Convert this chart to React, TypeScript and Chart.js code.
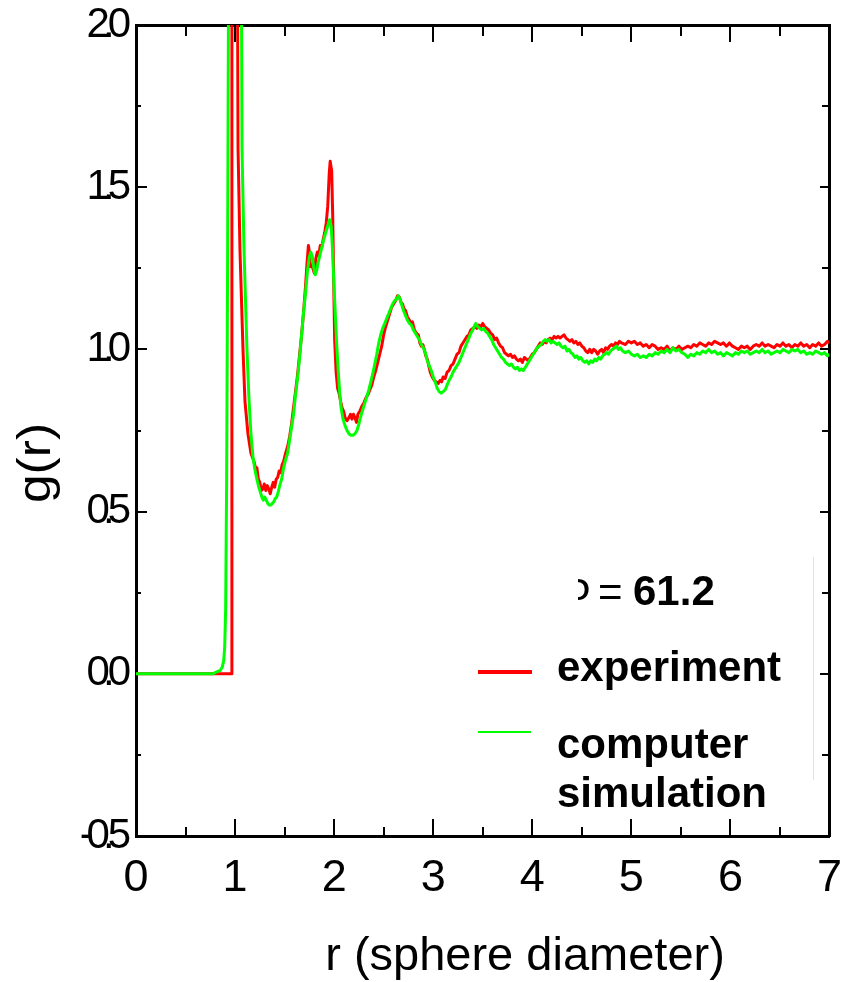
import { useEffect, useRef } from 'react';
import { Chart, registerables } from 'chart.js';

Chart.register(...registerables);

// Axis ranges
const R_MIN = 0;
const R_MAX = 7;
const G_MIN = -0.5;
const G_MAX = 2.0;

// Measured pair distribution function (red)
const experimentR = [
  0, 0.5, 0.962, 0.968, 1.0, 1.025, 1.03, 1.05, 1.08, 1.1,
  1.13, 1.16, 1.19, 1.21, 1.22, 1.235, 1.25, 1.265, 1.28, 1.295,
  1.31, 1.325, 1.34, 1.355, 1.37, 1.385, 1.4, 1.415, 1.43, 1.445,
  1.46, 1.475, 1.49, 1.51, 1.53, 1.55, 1.57, 1.59, 1.61, 1.63,
  1.65, 1.67, 1.69, 1.71, 1.725, 1.74, 1.75, 1.76, 1.775, 1.79,
  1.8, 1.815, 1.83, 1.845, 1.86, 1.875, 1.89, 1.905, 1.92, 1.935,
  1.95, 1.96, 1.975, 1.985, 1.995, 2.005, 2.02, 2.035, 2.05, 2.065,
  2.08, 2.095, 2.11, 2.13, 2.15, 2.165, 2.18, 2.195, 2.21, 2.225,
  2.24, 2.26, 2.28, 2.3, 2.32, 2.34, 2.36, 2.38, 2.4, 2.42,
  2.44, 2.46, 2.48, 2.5, 2.52, 2.54, 2.56, 2.58, 2.6, 2.62,
  2.64, 2.66, 2.675, 2.69, 2.705, 2.72, 2.74, 2.76, 2.775, 2.79,
  2.81, 2.83, 2.85, 2.865, 2.88, 2.895, 2.91, 2.925, 2.94, 2.955,
  2.97, 2.99, 3.01, 3.03, 3.05, 3.07, 3.085, 3.1, 3.12, 3.14,
  3.16, 3.18, 3.2, 3.22, 3.24, 3.26, 3.28, 3.3, 3.32, 3.34,
  3.36, 3.38, 3.4, 3.42, 3.44, 3.46, 3.48, 3.5, 3.52, 3.54,
  3.56, 3.58, 3.6, 3.62, 3.64, 3.66, 3.68, 3.7, 3.72, 3.74,
  3.76, 3.78, 3.8, 3.82, 3.84, 3.86, 3.88, 3.9, 3.92, 3.94,
  3.96, 3.98, 4.0, 4.02, 4.04, 4.06, 4.08, 4.1, 4.12, 4.14,
  4.16, 4.18, 4.2, 4.22, 4.24, 4.26, 4.28, 4.3, 4.32, 4.34,
  4.36, 4.38, 4.4, 4.42, 4.44, 4.46, 4.48, 4.5, 4.52, 4.54,
  4.56, 4.58, 4.6, 4.62, 4.64, 4.66, 4.68, 4.7, 4.72, 4.74,
  4.76, 4.78, 4.8, 4.82, 4.84, 4.86, 4.88, 4.9, 4.94, 4.97,
  5.0, 5.03, 5.06, 5.09, 5.12, 5.15, 5.18, 5.21, 5.24, 5.27,
  5.3, 5.33, 5.36, 5.39, 5.42, 5.45, 5.48, 5.51, 5.54, 5.57,
  5.6, 5.63, 5.66, 5.69, 5.72, 5.75, 5.78, 5.81, 5.84, 5.87,
  5.9, 5.93, 5.96, 5.99, 6.02, 6.05, 6.08, 6.11, 6.14, 6.17,
  6.2, 6.23, 6.26, 6.29, 6.32, 6.35, 6.38, 6.41, 6.44, 6.47,
  6.5, 6.53, 6.56, 6.59, 6.62, 6.65, 6.68, 6.71, 6.74, 6.77,
  6.8, 6.83, 6.86, 6.89, 6.92, 6.95, 6.98, 7.0,
];
const experimentG = [
  0, 0, 0, 3.0, 3.5, 2.1, 1.62, 1.3, 1.0, 0.84,
  0.74, 0.68, 0.655, 0.63, 0.635, 0.6, 0.59, 0.565, 0.57, 0.585,
  0.565, 0.58, 0.57, 0.555, 0.575, 0.59, 0.575, 0.6, 0.605, 0.625,
  0.62, 0.645, 0.655, 0.68, 0.7, 0.73, 0.77, 0.82, 0.87, 0.92,
  0.98, 1.04, 1.11, 1.19, 1.26, 1.32, 1.3, 1.255, 1.26, 1.245,
  1.235, 1.28, 1.3, 1.29, 1.32, 1.315, 1.34, 1.36, 1.39, 1.44,
  1.54, 1.58, 1.55, 1.42, 1.22, 1.03, 0.93, 0.88, 0.865, 0.84,
  0.82, 0.81, 0.79, 0.78, 0.79, 0.8, 0.785, 0.8, 0.79, 0.775,
  0.8, 0.81, 0.825, 0.835, 0.85, 0.86, 0.875, 0.89, 0.915, 0.935,
  0.96, 0.985, 1.01, 1.045, 1.07, 1.09, 1.11, 1.13, 1.14, 1.15,
  1.165, 1.16, 1.145, 1.14, 1.125, 1.12, 1.1, 1.09, 1.08, 1.085,
  1.06, 1.05, 1.045, 1.02, 1.01, 1.015, 1.0, 0.98, 0.97, 0.95,
  0.93, 0.915, 0.905, 0.9, 0.895, 0.905, 0.9, 0.915, 0.91, 0.93,
  0.935, 0.95, 0.955, 0.97, 0.985, 0.99, 1.01, 1.02, 1.03, 1.04,
  1.045, 1.06, 1.065, 1.07, 1.065, 1.075, 1.07, 1.08, 1.07, 1.065,
  1.06, 1.05, 1.045, 1.03, 1.035, 1.02, 1.01, 1.005, 0.99, 0.985,
  0.98, 0.985, 0.975, 0.98, 0.97, 0.965, 0.97, 0.96, 0.975, 0.97,
  0.965, 0.975, 0.985, 0.99, 1.0, 1.01, 1.02, 1.015, 1.025, 1.02,
  1.03, 1.035, 1.03, 1.04, 1.035, 1.04, 1.035, 1.04, 1.045, 1.035,
  1.03, 1.025, 1.03, 1.02, 1.025, 1.015, 1.02, 1.01, 1.005, 0.995,
  0.99, 1.0, 0.99, 1.0, 0.995, 0.985, 0.995, 1.0, 0.99, 1.005,
  1.0, 1.01, 1.015, 1.01, 1.02, 1.015, 1.025, 1.02, 1.015, 1.025,
  1.02, 1.025, 1.015, 1.02, 1.01, 1.015, 1.005, 1.015, 1.01, 1.0,
  1.005, 1.0, 1.01, 0.995, 1.005, 1.0, 1.01, 1.0, 1.005, 1.01,
  1.005, 1.015, 1.01, 1.02, 1.015, 1.01, 1.02, 1.015, 1.025, 1.02,
  1.015, 1.02, 1.01, 1.02, 1.01, 1.005, 1.0, 1.01, 1.005, 1.01,
  1.0, 1.01, 1.015, 1.01, 1.02, 1.01, 1.015, 1.01, 1.005, 1.015,
  1.01, 1.02, 1.01, 1.015, 1.005, 1.015, 1.01, 1.02, 1.01, 1.015,
  1.005, 1.015, 1.01, 1.02, 1.01, 1.015, 1.025, 1.02,
];

// Computer simulation (green)
const simulationR = [
  0, 0.5, 0.78, 0.8, 0.83, 0.85, 0.87, 0.885, 0.895, 0.905,
  0.915, 0.925, 0.935, 0.95, 1.0, 1.05, 1.065, 1.07, 1.09, 1.12,
  1.14, 1.16, 1.18, 1.2, 1.22, 1.24, 1.255, 1.27, 1.285, 1.3,
  1.315, 1.33, 1.345, 1.36, 1.375, 1.39, 1.405, 1.42, 1.435, 1.45,
  1.47, 1.49, 1.51, 1.53, 1.55, 1.57, 1.59, 1.61, 1.63, 1.65,
  1.67, 1.69, 1.71, 1.73, 1.75, 1.765, 1.78, 1.795, 1.81, 1.825,
  1.84, 1.86, 1.88, 1.9, 1.92, 1.94, 1.955, 1.97, 1.98, 1.995,
  2.01, 2.025, 2.04, 2.055, 2.07, 2.09, 2.11, 2.13, 2.15, 2.17,
  2.19, 2.21, 2.23, 2.25, 2.27, 2.29, 2.31, 2.33, 2.35, 2.37,
  2.39, 2.41, 2.43, 2.45, 2.47, 2.49, 2.51, 2.53, 2.55, 2.57,
  2.59, 2.61, 2.63, 2.65, 2.665, 2.68, 2.7, 2.72, 2.74, 2.76,
  2.78, 2.8, 2.82, 2.84, 2.86, 2.88, 2.9, 2.92, 2.94, 2.96,
  2.98, 3.0, 3.02, 3.04, 3.06, 3.08, 3.1, 3.12, 3.14, 3.16,
  3.18, 3.2, 3.22, 3.24, 3.26, 3.28, 3.3, 3.32, 3.34, 3.36,
  3.38, 3.4, 3.42, 3.43, 3.45, 3.47, 3.49, 3.51, 3.53, 3.55,
  3.57, 3.59, 3.61, 3.63, 3.65, 3.67, 3.69, 3.71, 3.73, 3.75,
  3.77, 3.79, 3.81, 3.83, 3.85, 3.87, 3.89, 3.91, 3.93, 3.95,
  3.97, 3.99, 4.01, 4.03, 4.05, 4.07, 4.09, 4.11, 4.13, 4.15,
  4.17, 4.19, 4.21, 4.23, 4.25, 4.27, 4.29, 4.31, 4.33, 4.35,
  4.37, 4.39, 4.41, 4.43, 4.45, 4.47, 4.49, 4.51, 4.53, 4.55,
  4.57, 4.59, 4.61, 4.63, 4.65, 4.67, 4.69, 4.71, 4.73, 4.75,
  4.77, 4.79, 4.81, 4.83, 4.85, 4.87, 4.89, 4.91, 4.94, 4.97,
  5.0, 5.03, 5.06, 5.09, 5.12, 5.15, 5.18, 5.21, 5.24, 5.27,
  5.3, 5.33, 5.36, 5.39, 5.42, 5.45, 5.48, 5.51, 5.54, 5.57,
  5.6, 5.63, 5.66, 5.69, 5.72, 5.75, 5.78, 5.81, 5.84, 5.87,
  5.9, 5.93, 5.96, 5.99, 6.02, 6.05, 6.08, 6.11, 6.14, 6.17,
  6.2, 6.23, 6.26, 6.29, 6.32, 6.35, 6.38, 6.41, 6.44, 6.47,
  6.5, 6.53, 6.56, 6.59, 6.62, 6.65, 6.68, 6.71, 6.74, 6.77,
  6.8, 6.83, 6.86, 6.89, 6.92, 6.95, 6.98, 7.0,
];
const simulationG = [
  0, 0, 0, 0.004, 0.008, 0.01, 0.02, 0.04, 0.08, 0.2,
  0.6, 1.3, 2.2, 3.2, 4.0, 2.8, 2.05, 1.62, 1.31, 1.0,
  0.85, 0.74, 0.67, 0.63, 0.6, 0.575, 0.56, 0.545, 0.535, 0.545,
  0.535, 0.525, 0.52, 0.52, 0.525, 0.53, 0.54, 0.545, 0.56, 0.58,
  0.6, 0.635, 0.66, 0.68, 0.72, 0.76, 0.8, 0.86, 0.91, 0.97,
  1.04, 1.11, 1.17, 1.24, 1.285, 1.3, 1.285, 1.25, 1.23, 1.245,
  1.27, 1.295, 1.32, 1.345, 1.365, 1.385, 1.4, 1.38, 1.33, 1.22,
  1.12, 1.02, 0.94, 0.87, 0.82, 0.785, 0.765, 0.75, 0.74, 0.735,
  0.735, 0.74, 0.75, 0.77, 0.795, 0.815, 0.835, 0.855, 0.875, 0.9,
  0.925, 0.955, 0.985, 1.02, 1.045, 1.065, 1.08, 1.095, 1.11, 1.125,
  1.14, 1.15, 1.155, 1.165, 1.155, 1.14, 1.12, 1.105, 1.09, 1.08,
  1.075, 1.06, 1.05, 1.04, 1.03, 1.015, 1.005, 0.99, 0.965, 0.95,
  0.935, 0.915, 0.9, 0.88, 0.87, 0.865, 0.87, 0.875, 0.89, 0.905,
  0.915, 0.93, 0.94, 0.95, 0.96, 0.975, 0.99, 1.005, 1.02, 1.035,
  1.05, 1.06, 1.075, 1.08, 1.07, 1.065, 1.06, 1.065, 1.055, 1.05,
  1.04, 1.03, 1.015, 1.005, 0.995, 0.985, 0.975, 0.97, 0.96, 0.955,
  0.95, 0.955, 0.945, 0.94, 0.945, 0.935, 0.94, 0.935, 0.945, 0.955,
  0.965, 0.975, 0.985, 0.995, 1.005, 1.01, 1.015, 1.025, 1.03, 1.025,
  1.03, 1.02, 1.025, 1.02, 1.015, 1.02, 1.01, 1.005, 1.01, 0.995,
  1.0, 0.99, 0.985, 0.975, 0.98, 0.97, 0.975, 0.965, 0.96, 0.965,
  0.955, 0.965, 0.96, 0.97, 0.965, 0.975, 0.97, 0.98, 0.985, 0.99,
  0.985, 0.995, 1.0, 1.005, 1.01, 1.0, 1.005, 0.995, 0.99, 0.995,
  0.985, 0.98, 0.985, 0.975, 0.98, 0.975, 0.985, 0.98, 0.99, 0.985,
  0.995, 0.99, 1.0, 0.99, 1.005, 0.995, 1.0, 0.99, 0.985, 0.975,
  0.985, 0.98, 0.99, 0.985, 0.995, 0.99, 1.0, 0.99, 0.995, 0.985,
  0.99, 0.98, 0.99, 0.985, 0.98, 0.99, 0.985, 0.995, 0.99, 0.995,
  0.985, 0.99, 0.995, 0.99, 1.0, 0.99, 0.995, 0.985, 0.99, 0.995,
  0.99, 1.0, 0.995, 0.99, 1.0, 0.995, 1.0, 0.99, 0.995, 0.985,
  0.99, 0.985, 0.995, 0.99, 0.985, 0.99, 0.98, 0.985,
];

// Text
const xTitle = 'r (sphere diameter)';
const yTitle = 'g(r)';
const packingSymbol = 'Φ';
const packingValue = '61.2';
const seriesLabels = ['experiment', 'computer', 'simulation'];

const RED = '#ff0000';
const GREEN = '#00ff00';
const FONT = "'Liberation Sans', Arial, Helvetica, sans-serif";

const toPoints = (rs: number[], gs: number[]) => rs.map((r, i) => ({ x: r, y: gs[i] }));

const clearPadding = (s: any) => {
  s.paddingLeft = 0;
  s.paddingRight = 0;
  s.paddingTop = 0;
  s.paddingBottom = 0;
};

// A label-less axis placed on one edge of the plot, used for the inward tick marks of the frame
const tickAxis = (axis: 'x' | 'y', position: Record<string, number>, step: number, length: number, frame: boolean) => ({
  type: 'linear',
  axis,
  position,
  min: axis === 'x' ? R_MIN : G_MIN,
  max: axis === 'x' ? R_MAX : G_MAX,
  ticks: { display: false, stepSize: step },
  grid: {
    display: true,
    drawOnChartArea: false,
    drawTicks: true,
    tickLength: length,
    color: '#000',
    tickColor: '#000',
    lineWidth: 2,
    tickWidth: 2,
  },
  border: { display: frame, width: 3, color: '#000' },
  afterFit: clearPadding,
});

const annotations = {
  id: 'gofrAnnotations',
  afterDatasetsDraw(chart: any) {
    // tight digit spacing for the g(r) tick labels, which are drawn after the curves
    chart.ctx.letterSpacing = '-7px';
  },
  afterDraw(chart: any) {
    const ctx = chart.ctx as any;
    ctx.letterSpacing = '0px';
    ctx.save();
    ctx.fillStyle = '#000';
    ctx.textBaseline = 'alphabetic';

    // axis titles
    ctx.font = `47px ${FONT}`;
    ctx.textAlign = 'center';
    ctx.fillText(xTitle, 525, 970);

    ctx.save();
    ctx.translate(50, 463);
    ctx.rotate(-Math.PI / 2);
    ctx.scale(1.12, 1);
    ctx.font = `46px ${FONT}`;
    ctx.fillText(yTitle, 0, 0);
    ctx.restore();

    // legend box edge
    ctx.strokeStyle = '#e2e2e2';
    ctx.lineWidth = 1;
    ctx.beginPath();
    ctx.moveTo(813.5, 557);
    ctx.lineTo(813.5, 780);
    ctx.stroke();

    // packing fraction line, symbol partly hidden by the legend box
    ctx.save();
    ctx.beginPath();
    ctx.rect(578, 540, 60, 100);
    ctx.clip();
    ctx.font = `42px ${FONT}`;
    ctx.textAlign = 'right';
    ctx.fillText(packingSymbol, 591, 605);
    ctx.restore();

    ctx.textAlign = 'left';
    ctx.font = `42px ${FONT}`;
    ctx.fillText('=', 598, 606);
    ctx.font = `bold 42px ${FONT}`;
    ctx.fillText(packingValue, 633, 605);

    // series keys
    ctx.lineCap = 'butt';
    ctx.strokeStyle = RED;
    ctx.lineWidth = 4;
    ctx.beginPath();
    ctx.moveTo(478, 672);
    ctx.lineTo(532, 672);
    ctx.stroke();

    ctx.strokeStyle = GREEN;
    ctx.lineWidth = 2;
    ctx.beginPath();
    ctx.moveTo(478, 732);
    ctx.lineTo(531, 732);
    ctx.stroke();

    ctx.fillText(seriesLabels[0], 557, 681);
    ctx.fillText(seriesLabels[1], 557, 758);
    ctx.fillText(seriesLabels[2], 557, 807);

    ctx.restore();
  },
};

export default function App() {
  const canvasRef = useRef<HTMLCanvasElement>(null);

  useEffect(() => {
    const canvas = canvasRef.current;
    if (!canvas) return;

    const chart = new Chart(canvas, {
      type: 'line',
      data: {
        datasets: [
          {
            label: 'experiment',
            data: toPoints(experimentR, experimentG),
            borderColor: RED,
            borderWidth: 3,
            pointRadius: 0,
            tension: 0,
            fill: false,
            borderJoinStyle: 'round',
            order: 1,
          },
          {
            label: 'computer simulation',
            data: toPoints(simulationR, simulationG),
            borderColor: GREEN,
            borderWidth: 3,
            pointRadius: 0,
            tension: 0,
            fill: false,
            borderJoinStyle: 'round',
            order: 0,
          },
        ],
      },
      options: {
        responsive: false,
        animation: false,
        events: [],
        layout: { padding: { left: 0, right: 16.5, top: 25, bottom: 0 } },
        plugins: { legend: { display: false }, tooltip: { enabled: false }, title: { display: false } },
        scales: {
          x: {
            type: 'linear',
            position: 'bottom',
            min: R_MIN,
            max: R_MAX,
            ticks: {
              stepSize: 1,
              padding: 20,
              color: '#000',
              font: { family: FONT, size: 45, lineHeight: 1 },
              callback: (v: any) => String(v),
            },
            grid: { display: false, drawTicks: false },
            border: { display: true, width: 3, color: '#000' },
            afterFit: (s: any) => {
              s.height = 146;
              clearPadding(s);
            },
          },
          y: {
            type: 'linear',
            position: 'left',
            min: G_MIN,
            max: G_MAX,
            ticks: {
              stepSize: 0.5,
              padding: 12,
              z: 1,
              color: '#000',
              font: { family: FONT, size: 42, lineHeight: 1 },
              callback: (v: any) => Number(v).toFixed(1),
            },
            grid: { display: false, drawTicks: false },
            border: { display: true, width: 3, color: '#000' },
            afterFit: (s: any) => {
              s.width = 136;
              clearPadding(s);
            },
          },
          xTickBottomMajor: tickAxis('x', { y: G_MIN }, 1, -17, false),
          xTickBottomMinor: tickAxis('x', { y: G_MIN }, 0.5, -9, false),
          xTickTopMajor: tickAxis('x', { y: G_MAX }, 1, 17, false),
          xTickTopMinor: tickAxis('x', { y: G_MAX }, 0.5, 9, true),
          yTickLeftMajor: tickAxis('y', { x: R_MIN }, 0.5, -11, false),
          yTickLeftMinor: tickAxis('y', { x: R_MIN }, 0.25, -5, false),
          yTickRightMajor: tickAxis('y', { x: R_MAX }, 0.5, 10, false),
          yTickRightMinor: tickAxis('y', { x: R_MAX }, 0.25, 6, true),
        } as any,
      },
      plugins: [annotations],
    } as any);

    return () => chart.destroy();
  }, []);

  return (
    <div style={{ position: 'absolute', left: 0, top: 0, width: 846, height: 982, background: '#fff' }}>
      <canvas ref={canvasRef} width={846} height={982} style={{ display: 'block' }} />
    </div>
  );
}
